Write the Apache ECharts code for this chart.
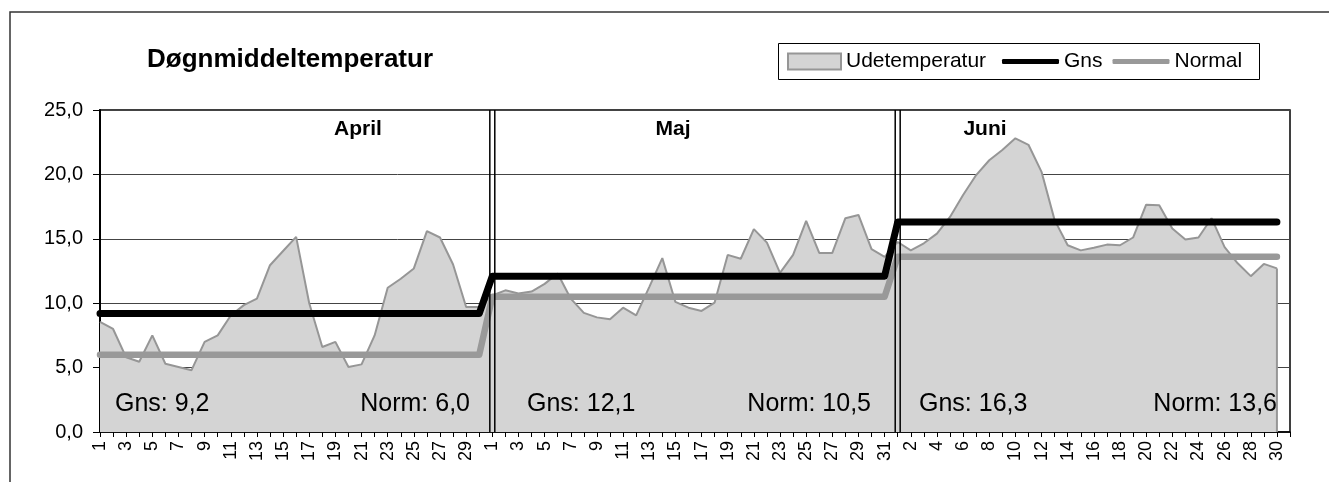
<!DOCTYPE html>
<html><head><meta charset="utf-8">
<script src="https://cdn.jsdelivr.net/npm/echarts@6/dist/echarts.min.js"></script>
<style>html,body{margin:0;padding:0;background:#fff}#c{width:1329px;height:482px}</style>
</head><body><div id="c"></div>
<script>
// ---- data ----
const months = ['April', 'Maj', 'Juni'];
const monthDays = [30, 31, 30];
const gnsValues = [9.2, 12.1, 16.3];
const normValues = [6.0, 10.5, 13.6];
const aprilTemp = [8.55, 8.0, 5.8, 5.45, 7.5, 5.3, 5.05, 4.8, 7.0, 7.5, 9.05, 9.85, 10.35, 12.95, 14.05, 15.15, 10.0, 6.6, 7.0, 5.05, 5.25, 7.5, 11.2, 11.9, 12.7, 15.6, 15.1, 13.0, 9.7, 9.7];
const mayTemp = [10.6, 11.0, 10.75, 10.9, 11.5, 12.3, 10.35, 9.25, 8.9, 8.75, 9.65, 9.05, 11.25, 13.5, 10.1, 9.65, 9.4, 10.05, 13.75, 13.45, 15.75, 14.7, 12.35, 13.75, 16.4, 13.9, 13.9, 16.6, 16.85, 14.2, 13.6];
const juneTemp = [14.75, 14.1, 14.65, 15.4, 16.7, 18.4, 19.95, 21.1, 21.9, 22.8, 22.3, 20.2, 16.45, 14.5, 14.1, 14.3, 14.55, 14.5, 15.1, 17.65, 17.6, 15.8, 14.95, 15.1, 16.6, 14.35, 13.1, 12.1, 13.05, 12.7];
const yMin = 0, yMax = 25, yStep = 5;

// ---- build ----
const fmt = v => v.toFixed(1).replace('.', ',');
const categories = [];
monthDays.forEach(n => { for (let d = 1; d <= n; d++) categories.push(String(d)); });
categories.push('');
const temps = aprilTemp.concat(mayTemp, juneTemp, [null]);
const gns = [], norm = [];
monthDays.forEach((n, m) => { for (let d = 0; d < n; d++) { gns.push(gnsValues[m]); norm.push(normValues[m]); } });
gns.push(null); norm.push(null);
const lastIdx = temps.length - 2;

const FONT = 'Liberation Sans, Arial, sans-serif';
const sepSeries = [];
let cum = 0;
monthDays.slice(0, -1).forEach(n => {
  cum += n;
  [-0.19, 0.19].forEach(off => {
    sepSeries.push({
      type: 'line', xAxisIndex: 1, yAxisIndex: 0, silent: true, symbol: 'none', z: 10,
      data: [[cum + off, yMin], [cum + off, yMax]],
      lineStyle: { color: '#000', width: 1.5 }
    });
  });
});

// month labels and averages (layout positions only)
const monthLabelX = [358, 673, 985];
const gnsLabelX = [115, 527, 919];
const normLabelRight = [470, 871, 1277];
const graphics = [
  { type: 'rect', shape: { x: 10, y: 12, width: 1400, height: 600 }, style: { fill: 'none', stroke: '#333', lineWidth: 1.5 }, silent: true, z: 0 },
  { type: 'rect', shape: { x: 778.5, y: 43.5, width: 481, height: 36 }, style: { fill: 'none', stroke: '#000', lineWidth: 1 }, silent: true, z: 0 },
  { type: 'text', left: 147, top: 47, style: { text: 'Døgnmiddeltemperatur', font: 'bold 26px ' + FONT, fill: '#000' }, z: 20 }
];
months.forEach((m, i) => {
  graphics.push({ type: 'text', x: monthLabelX[i], y: 129, style: { text: m, font: 'bold 21px ' + FONT, fill: '#000', textAlign: 'center', textVerticalAlign: 'middle' }, z: 20 });
  graphics.push({ type: 'text', x: gnsLabelX[i], y: 404, style: { text: 'Gns: ' + fmt(gnsValues[i]), font: '25px ' + FONT, fill: '#000', textAlign: 'left', textVerticalAlign: 'middle' }, z: 20 });
  graphics.push({ type: 'text', x: normLabelRight[i], y: 404, style: { text: 'Norm: ' + fmt(normValues[i]), font: '25px ' + FONT, fill: '#000', textAlign: 'right', textVerticalAlign: 'middle' }, z: 20 });
});

const legendText = { fontSize: 21, color: '#000', fontFamily: FONT };
const chart = echarts.init(document.getElementById('c'), null, { renderer: 'canvas' });
chart.setOption({
  animation: false,
  backgroundColor: '#fff',
  textStyle: { fontFamily: FONT },
  grid: { left: 100, right: 39, top: 110, bottom: 50, show: true, borderColor: '#000', borderWidth: 1.5, containLabel: false },
  legend: [
    {
      left: 787, top: 51, padding: 0, itemWidth: 53, itemHeight: 16, textStyle: legendText,
      data: [{ name: 'Udetemperatur', icon: 'rect', itemStyle: { color: '#d4d4d4', borderColor: '#969696', borderWidth: 2 } }]
    },
    {
      left: 1002, top: 51, padding: 0, itemGap: 10, itemWidth: 57, itemHeight: 5, icon: 'roundRect', textStyle: legendText,
      data: ['Gns', 'Normal']
    }
  ],
  xAxis: [
    {
      type: 'category', data: categories, boundaryGap: false,
      axisLine: { lineStyle: { color: '#000', width: 1.5 } },
      axisTick: { interval: 0, length: 5, lineStyle: { color: '#000' } },
      axisLabel: { interval: 1, rotate: 90, fontSize: 18, color: '#000', margin: 9 },
      splitLine: { show: false }
    },
    { type: 'value', min: 0, max: categories.length - 1, show: false }
  ],
  yAxis: {
    type: 'value', min: yMin, max: yMax, interval: yStep,
    axisLine: { show: true, lineStyle: { color: '#000', width: 2 } },
    axisTick: { show: true, length: 7, lineStyle: { color: '#000' } },
    axisLabel: { formatter: fmt, fontSize: 20, color: '#000', margin: 17 },
    splitLine: { lineStyle: { color: '#444', width: 1 } }
  },
  series: [
    {
      name: 'Udetemperatur', type: 'line', data: temps, symbol: 'none', z: 2,
      lineStyle: { color: '#969696', width: 2 }, itemStyle: { color: '#969696' },
      areaStyle: { color: '#d4d4d4', opacity: 1 }
    },
    {
      type: 'line', xAxisIndex: 1, silent: true, symbol: 'none', z: 2,
      data: [[lastIdx, yMin], [lastIdx, temps[lastIdx]]],
      lineStyle: { color: '#969696', width: 2 }
    },
    {
      name: 'Gns', type: 'line', data: gns, symbol: 'none', z: 4,
      lineStyle: { color: '#000', width: 7, cap: 'round', join: 'round' }, itemStyle: { color: '#000' }
    },
    {
      name: 'Normal', type: 'line', data: norm, symbol: 'none', z: 3,
      lineStyle: { color: '#999', width: 6.5, cap: 'round', join: 'round' }, itemStyle: { color: '#999' }
    }
  ].concat(sepSeries),
  graphic: graphics
});
</script></body></html>
